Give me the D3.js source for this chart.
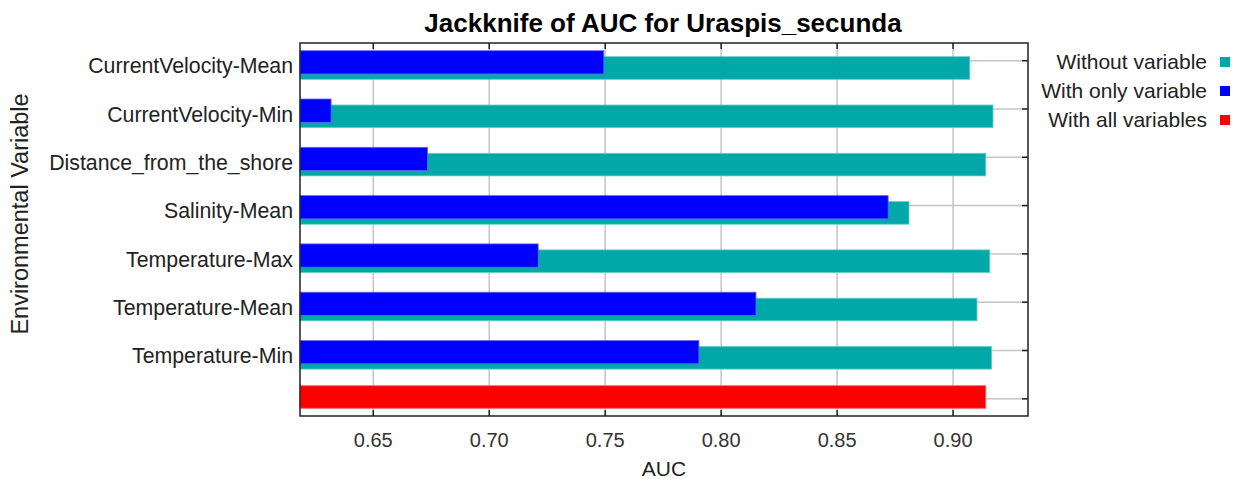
<!DOCTYPE html>
<html>
<head>
<meta charset="utf-8">
<script src="https://cdn.jsdelivr.net/npm/d3@7"></script>
<style>
  html, body { margin: 0; padding: 0; background: #fff; }
  svg { display: block; font-family: "Liberation Sans", Arial, sans-serif; }
</style>
</head>
<body>
<svg id="chart" width="1238" height="479"></svg>
<script>
// ---- data ----
const categories = ["CurrentVelocity-Mean", "CurrentVelocity-Min", "Distance_from_the_shore",
  "Salinity-Mean", "Temperature-Max", "Temperature-Mean", "Temperature-Min"];
const withoutVariable = [0.9072, 0.9172, 0.9141, 0.8810, 0.9158, 0.9103, 0.9166];
const withOnlyVariable = [0.7494, 0.6318, 0.6734, 0.8720, 0.7211, 0.8150, 0.7904];
const withAllVariables = 0.9141;
const xTicks = [0.65, 0.70, 0.75, 0.80, 0.85, 0.90];
const legendLabels = ["Without variable", "With only variable", "With all variables"];
const colors = ["#00a8a8", "#0000ff", "#ff0000"];
const title = "Jackknife of AUC for Uraspis_secunda";
const xLabel = "AUC";
const yLabel = "Environmental Variable";

// ---- layout ----
const svg = d3.select("#chart");
const L = 300, R = 1028, T = 43, B = 416;
const step = 48.3;
const rows = categories.concat([""]);

const x = d3.scaleLinear().domain([0.6184, 0.9323]).range([L, R]);
const y = d3.scaleBand().domain(rows).range([46, 46 + step * rows.length]).padding(0);

const grid = "#c4c4c4";

// vertical grid
svg.append("g").selectAll("line").data(xTicks).join("line")
  .attr("x1", d => x(d)).attr("x2", d => x(d))
  .attr("y1", T).attr("y2", B)
  .attr("stroke", grid).attr("stroke-width", 1.5);

// horizontal grid
svg.append("g").selectAll("line").data(rows).join("line")
  .attr("x1", L).attr("x2", R)
  .attr("y1", d => y(d) + 14.7).attr("y2", d => y(d) + 14.7)
  .attr("stroke", grid).attr("stroke-width", 1.5);

// without variable (teal)
svg.append("g").selectAll("rect").data(categories).join("rect")
  .attr("x", L)
  .attr("y", d => y(d) + 10.7)
  .attr("width", (d, i) => x(withoutVariable[i]) - L)
  .attr("height", 22.6)
  .attr("fill", colors[0])
  .attr("stroke", "#66cccc").attr("stroke-width", 0.8);

// with only variable (blue)
svg.append("g").selectAll("rect").data(categories).join("rect")
  .attr("x", L)
  .attr("y", d => y(d) + 4.7)
  .attr("width", (d, i) => x(withOnlyVariable[i]) - L)
  .attr("height", 23.3)
  .attr("fill", colors[1])
  .attr("stroke", "#6666ff").attr("stroke-width", 0.8);

// with all variables (red)
svg.append("rect")
  .attr("x", L)
  .attr("y", y("") + 1.6)
  .attr("width", x(withAllVariables) - L)
  .attr("height", 22.6)
  .attr("fill", colors[2])
  .attr("stroke", "#ff6666").attr("stroke-width", 0.8);

// frame
svg.append("rect").attr("x", L).attr("y", T).attr("width", R - L).attr("height", B - T)
  .attr("fill", "none").attr("stroke", "#222").attr("stroke-width", 1.5);

// tick marks
const tk = svg.append("g").attr("stroke", "#222").attr("stroke-width", 1.5);
xTicks.forEach(t => {
  tk.append("line").attr("x1", x(t)).attr("x2", x(t)).attr("y1", B).attr("y2", B - 6);
  tk.append("line").attr("x1", x(t)).attr("x2", x(t)).attr("y1", T).attr("y2", T + 6);
});
rows.forEach(r => {
  tk.append("line").attr("x1", R).attr("x2", R - 6).attr("y1", y(r) + 14.7).attr("y2", y(r) + 14.7);
});

// x tick labels
svg.append("g").selectAll("text").data(xTicks).join("text")
  .attr("x", d => x(d)).attr("y", 447)
  .attr("text-anchor", "middle")
  .attr("font-size", 20).attr("fill", "#333")
  .text(d => d3.format(".2f")(d));

// category labels
svg.append("g").selectAll("text").data(categories).join("text")
  .attr("x", 293).attr("y", d => y(d) + 20)
  .attr("dy", "0.35em")
  .attr("text-anchor", "end")
  .attr("font-size", 21.3).attr("fill", "#222")
  .text(d => d);

// axis titles
svg.append("text").attr("x", (L + R) / 2).attr("y", 476)
  .attr("text-anchor", "middle").attr("font-size", 21).attr("fill", "#222").text(xLabel);
svg.append("text").attr("transform", "translate(28,214) rotate(-90)")
  .attr("text-anchor", "middle").attr("font-size", 23.5).attr("fill", "#222").text(yLabel);

// title
svg.append("text").attr("x", 663).attr("y", 32)
  .attr("text-anchor", "middle").attr("font-size", 26).attr("font-weight", "bold")
  .attr("fill", "#000").text(title);

// legend
const lg = svg.append("g");
legendLabels.forEach((lab, i) => {
  const cy = 62 + i * 29;
  lg.append("text").attr("x", 1207).attr("y", cy).attr("dy", "0.35em")
    .attr("text-anchor", "end").attr("font-size", 21).attr("fill", "#222").text(lab);
  lg.append("rect").attr("x", 1220).attr("y", cy - 5).attr("width", 10).attr("height", 10)
    .attr("fill", colors[i]);
});
</script>
</body>
</html>
